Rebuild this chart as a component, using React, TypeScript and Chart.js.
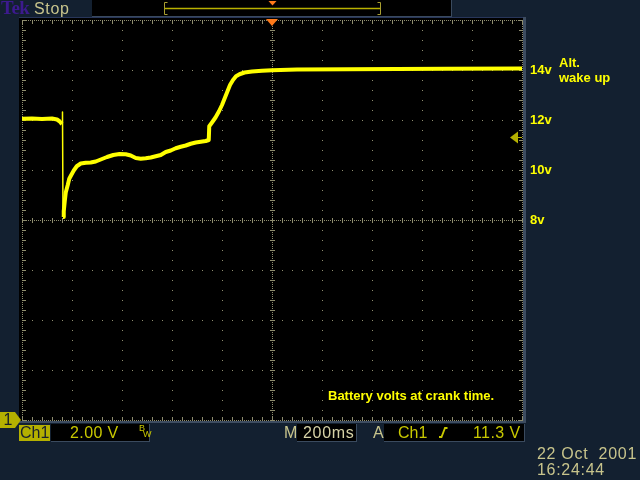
import React, { useEffect, useRef } from "react";
import { Chart, registerables } from "chart.js";

Chart.register(...registerables);

// ---------- data ----------
const timeMs = [
  -1000, -960, -920, -880, -860, -850, -844, -840, -838, -836, -833, -829, -825, -821, -817,
  -811, -803, -793, -781, -765, -745, -725, -705, -685, -660, -635, -610, -585, -565, -545,
  -525, -505, -485, -465, -445, -425, -405, -385, -365, -345, -325, -305, -285, -265, -253,
  -251, -240, -226, -212, -200, -190, -180, -168, -156, -144, -130, -110, -80, -40, 0,
  100, 300, 500, 700, 1000,
];
const volts = [
  12.05, 12.06, 12.04, 12.06, 12.02, 11.95, 11.88, 11.84, 12.32, 8.12, 8.35, 8.75, 9.1, 9.25, 9.4,
  9.65, 9.8, 9.98, 10.15, 10.26, 10.29, 10.3, 10.34, 10.42, 10.52, 10.6, 10.64, 10.63, 10.58, 10.48,
  10.45, 10.47, 10.5, 10.55, 10.6, 10.72, 10.78, 10.87, 10.93, 10.98, 11.05, 11.1, 11.13, 11.16, 11.2,
  11.75, 11.9, 12.1, 12.35, 12.6, 12.85, 13.1, 13.4, 13.6, 13.75, 13.83, 13.9, 13.94, 13.97, 13.99,
  14.02, 14.03, 14.04, 14.05, 14.06,
];
const voltTicks = [8, 10, 12, 14];
const timeRangeMs = [-1000, 1000];
const voltRange = [0, 16];
const timePerDivMs = 200;
const voltsPerDiv = 2;
const minorPerDiv = 5;
const triggerLevelV = 11.3;
const triggerTimeMs = 0;
const groundV = 0;
const spikeTimeMs = -838;

// ---------- styles ----------
const NAVY = "#132030";
const GRID = "#8e8c6e";
const TRACE = "#ffff00";
const OLIVE = "#b4b000";
const TAN = "#c8c48c";
const CHY = "#c8c800";
const scopeFont = '"Liberation Sans", Arial, sans-serif';

const scopePlugin = {
  id: "scopeGraticule",
  beforeDraw(chart: any) {
    const { ctx, chartArea: a } = chart;
    ctx.save();
    ctx.fillStyle = "#000000";
    ctx.fillRect(a.left - 3, a.top - 2, a.right - a.left + 4, a.bottom - a.top + 3);
    ctx.fillStyle = "#28365a";
    ctx.fillRect(a.left - 3, a.top - 3, a.right - a.left + 7, 1);
    ctx.fillStyle = "#3d4c60";
    ctx.fillRect(a.right + 1, a.top - 3, 3, a.bottom - a.top + 6);
    ctx.fillRect(a.left - 3, a.bottom + 1, a.right - a.left + 7, 2);
    ctx.restore();
  },
  beforeDatasetsDraw(chart: any) {
    const { ctx, scales } = chart;
    const xs = scales.x;
    const ys = scales.y;
    const px = (t: number) => Math.round(xs.getPixelForValue(t));
    const py = (v: number) => Math.round(ys.getPixelForValue(v));
    const [t0, t1] = timeRangeMs;
    const [v0, v1] = voltRange;
    const nX = Math.round((t1 - t0) / timePerDivMs);
    const nY = Math.round((v1 - v0) / voltsPerDiv);
    const minorXs: number[] = [];
    const minorYs: number[] = [];
    for (let i = 0; i <= nX * minorPerDiv; i++) minorXs.push(px(t0 + (i * timePerDivMs) / minorPerDiv));
    for (let j = 0; j <= nY * minorPerDiv; j++) minorYs.push(py(v0 + (j * voltsPerDiv) / minorPerDiv));
    const L = px(t0);
    const R = px(t1);
    const B = py(v0);
    const T = py(v1);
    const CX = px((t0 + t1) / 2);
    const CY = py((v0 + v1) / 2);
    ctx.save();
    ctx.fillStyle = GRID;
    for (let i = 1; i < nX; i++) {
      const x = px(t0 + i * timePerDivMs);
      if (x === CX) continue;
      for (const y of minorYs) ctx.fillRect(x, y, 1, 1);
    }
    for (let j = 1; j < nY; j++) {
      const y = py(v0 + j * voltsPerDiv);
      if (y === CY) continue;
      for (const x of minorXs) ctx.fillRect(x, y, 1, 1);
    }
    for (let x = L; x <= R; x += 2) {
      ctx.fillRect(x, T, 1, 1);
      ctx.fillRect(x, B, 1, 1);
      ctx.fillRect(x, CY, 1, 1);
    }
    for (let y = T; y <= B; y += 2) {
      ctx.fillRect(L, y, 1, 1);
      ctx.fillRect(R, y, 1, 1);
      ctx.fillRect(CX, y, 1, 1);
    }
    for (const x of minorXs) {
      ctx.fillRect(x, CY - 2, 1, 5);
      ctx.fillRect(x, T, 1, 4);
      ctx.fillRect(x, B - 3, 1, 4);
    }
    for (const y of minorYs) {
      ctx.fillRect(CX - 2, y, 5, 1);
      ctx.fillRect(L, y, 4, 1);
      ctx.fillRect(R - 3, y, 4, 1);
    }
    ctx.restore();
  },
  afterDatasetsDraw(chart: any) {
    const { ctx, scales } = chart;
    const xs = scales.x;
    const ys = scales.y;
    const R = Math.round(xs.getPixelForValue(timeRangeMs[1]));
    const T = Math.round(ys.getPixelForValue(voltRange[1]));
    ctx.save();
    // ground marker "1"
    const yG = Math.round(ys.getPixelForValue(groundV));
    ctx.fillStyle = OLIVE;
    ctx.beginPath();
    ctx.moveTo(0, yG - 8);
    ctx.lineTo(15, yG - 8);
    ctx.lineTo(21, yG);
    ctx.lineTo(15, yG + 8);
    ctx.lineTo(0, yG + 8);
    ctx.closePath();
    ctx.fill();
    ctx.fillStyle = "#141c28";
    ctx.font = '16px "Liberation Sans", Arial, sans-serif';
    ctx.textAlign = "center";
    ctx.textBaseline = "middle";
    ctx.fillText("1", 8, yG + 1);
    // trigger level arrow
    const yT = ys.getPixelForValue(triggerLevelV);
    ctx.fillStyle = OLIVE;
    ctx.beginPath();
    ctx.moveTo(R - 12, yT);
    ctx.lineTo(R - 4, yT - 6);
    ctx.lineTo(R - 4, yT + 6);
    ctx.closePath();
    ctx.fill();
    ctx.fillRect(R - 4, Math.round(yT) - 1, 4, 1);
    // trigger position marker
    const xT = Math.round(xs.getPixelForValue(triggerTimeMs));
    ctx.fillStyle = "#ff7a1a";
    ctx.beginPath();
    ctx.moveTo(xT - 6, T - 1);
    ctx.lineTo(xT + 6, T - 1);
    ctx.lineTo(xT, T + 6);
    ctx.closePath();
    ctx.fill();
    ctx.restore();
  },
};

const txt = (extra: React.CSSProperties): React.CSSProperties => ({
  position: "absolute",
  whiteSpace: "pre",
  fontFamily: scopeFont,
  fontSize: 16,
  lineHeight: "16px",
  letterSpacing: "0.7px",
  color: TAN,
  ...extra,
});

const box = (extra: React.CSSProperties): React.CSSProperties => ({
  position: "absolute",
  background: "#000",
  borderRight: "1px solid #3a4a5e",
  borderBottom: "1px solid #3a4a5e",
  boxSizing: "border-box",
  ...extra,
});

const note = (extra: React.CSSProperties): React.CSSProperties => ({
  position: "absolute",
  whiteSpace: "pre",
  fontFamily: scopeFont,
  fontSize: 13,
  fontWeight: "bold",
  lineHeight: "13px",
  color: TRACE,
  ...extra,
});

export default function App() {
  const ref = useRef<HTMLCanvasElement>(null);

  useEffect(() => {
    const canvas = ref.current;
    if (!canvas) return;
    const spikeIdx = timeMs.indexOf(spikeTimeMs);
    const points = timeMs.map((t, i) => ({ x: t, y: volts[i] }));
    const chart = new Chart(canvas, {
      type: "line",
      data: {
        datasets: [
          {
            data: points,
            borderColor: TRACE,
            borderWidth: 4,
            borderJoinStyle: "round",
            pointRadius: 0,
            tension: 0,
            fill: false,
            segment: {
              borderWidth: (c: any) =>
                c.p0DataIndex === spikeIdx - 1 || c.p0DataIndex === spikeIdx ? 1.5 : 4,
            },
          } as any,
        ],
      },
      options: {
        animation: false,
        responsive: false,
        events: [],
        layout: { padding: { left: 22, top: 20, bottom: 60, right: 0 } },
        plugins: { legend: { display: false }, tooltip: { enabled: false } },
        scales: {
          x: { type: "linear", min: timeRangeMs[0], max: timeRangeMs[1], display: false },
          y: {
            type: "linear",
            position: "right",
            min: voltRange[0],
            max: voltRange[1],
            grid: { display: false, drawTicks: false },
            border: { display: false },
            afterBuildTicks: (s: any) => {
              s.ticks = voltTicks.map((v) => ({ value: v }));
            },
            afterFit: (s: any) => {
              s.width = 118;
            },
            ticks: {
              padding: 8,
              color: TRACE,
              font: { family: scopeFont, size: 13, weight: "bold" },
              callback: (v: any) => `${v}v`,
            },
          },
        },
      } as any,
      plugins: [scopePlugin as any],
    });
    return () => chart.destroy();
  }, []);

  return (
    <div
      style={{
        position: "absolute",
        left: 0,
        top: 0,
        width: 640,
        height: 480,
        background: NAVY,
        overflow: "hidden",
      }}
    >
      <canvas ref={ref} width={640} height={480} style={{ position: "absolute", left: 0, top: 0 }} />

      {/* top status bar */}
      <div style={txt({ left: 1, top: -2, fontFamily: '"Liberation Serif", serif', fontWeight: "bold", fontSize: 19, lineHeight: "19px", letterSpacing: "-0.5px", color: "#3c1a8e" })}>Tek</div>
      <div style={txt({ left: 34, top: 1 })}>Stop</div>
      <div style={box({ left: 92, top: 0, width: 360, height: 17 })} />

      {/* bottom readouts */}
      <div style={{ position: "absolute", left: 19, top: 425, width: 31, height: 16, background: OLIVE }} />
      <div style={txt({ left: 20, top: 425, color: "#18202c", letterSpacing: "0px" })}>Ch1</div>
      <div style={box({ left: 51, top: 424, width: 99, height: 18 })} />
      <div style={txt({ left: 70, top: 425, color: CHY, letterSpacing: "0.4px" })}>2.00 V</div>
      <div style={txt({ left: 139, top: 424, fontSize: 9, lineHeight: "9px", color: CHY, letterSpacing: "0px" })}>B</div>
      <div style={txt({ left: 143, top: 430, fontSize: 9, lineHeight: "9px", color: CHY, letterSpacing: "0px" })}>W</div>

      <div style={txt({ left: 284, top: 425 })}>M</div>
      <div style={box({ left: 297, top: 424, width: 60, height: 18 })} />
      <div style={txt({ left: 303, top: 425, color: "#d6d2a6" })}>200ms</div>

      <div style={txt({ left: 373, top: 425 })}>A</div>
      <div style={box({ left: 384, top: 424, width: 141, height: 18 })} />
      <div style={txt({ left: 398, top: 425, color: CHY, letterSpacing: "0px" })}>Ch1</div>
      <div style={txt({ left: 473, top: 425, color: CHY, letterSpacing: "0.4px" })}>11.3 V</div>

      <div style={txt({ left: 537, top: 446 })}>22 Oct  2001</div>
      <div style={txt({ left: 537, top: 462 })}>16:24:44</div>

      <svg width={640} height={480} style={{ position: "absolute", left: 0, top: 0, pointerEvents: "none" }}>
        <path d="M167.5 2.5 H164.5 V14.5 H167.5" stroke="#a89e30" strokeWidth={1} fill="none" />
        <path d="M377.5 2.5 H380.5 V14.5 H377.5" stroke="#a89e30" strokeWidth={1} fill="none" />
        <line x1={165} y1={8.5} x2={380} y2={8.5} stroke="#b8b000" strokeWidth={1.5} />
        <polygon points="268.5,1 276.5,1 272.5,5.5" fill="#ff7a1a" />
        <path d="M439 437 H441.5 L445 428 H447.5" stroke={CHY} strokeWidth={1.8} fill="none" />
      </svg>

      {/* annotations */}
      <div style={note({ left: 559, top: 56 })}>Alt.</div>
      <div style={note({ left: 559, top: 71 })}>wake up</div>
      <div style={note({ left: 328, top: 389 })}>Battery volts at crank time.</div>
    </div>
  );
}
